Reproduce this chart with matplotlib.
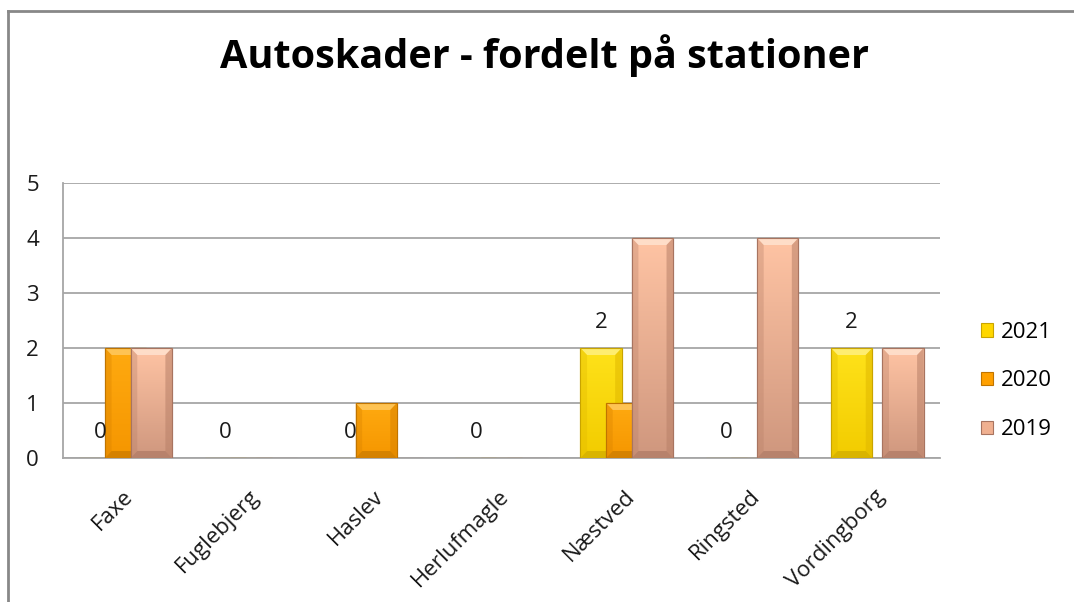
import matplotlib
matplotlib.use("Agg")
import matplotlib.pyplot as plt
import numpy as np
from matplotlib.patches import Polygon, Rectangle
from matplotlib.colors import LinearSegmentedColormap
from matplotlib.lines import Line2D
from matplotlib.transforms import ScaledTranslation

plt.rcParams['font.family'] = ['Open Sans', 'DejaVu Sans']

stations = ['Faxe', 'Fuglebjerg', 'Haslev', 'Herlufmagle', 'Næstved', 'Ringsted', 'Vordingborg']
series_names = ['2021', '2020', '2019']
v2021 = [0, 0, 0, 0, 2, 0, 2]
v2020 = [2, 0, 1, 0, 1, 0, 0]
v2019 = [2, 0, 0, 0, 4, 4, 2]
title = 'Autoskader - fordelt på stationer'

# style: (face, gradient top, gradient bottom, bevel top light, side dark, edge)
styles = [
    ('#FFD700', '#FFE21A', '#F2CC00', '#FFF080', '#E0B800', '#C9A400'),
    ('#FFA000', '#FFAA10', '#F59600', '#FFC860', '#D98200', '#C07400'),
    ('#F0B090', '#FFC4A4', '#CF977E', '#FFE2CF', '#B88068', '#A87460'),
]

fig = plt.figure(figsize=(10.74, 6.02), dpi=100)
ax = fig.add_axes([63/1074, 144/602, 877/1074, 275/602])

x = np.arange(len(stations))
width = 0.33
offsets = [-0.205, 0.0, 0.205]
values = [v2021, v2020, v2019]

px_per_unit_y = 275 / 5.0
for i, (vals, off, st) in enumerate(zip(values, offsets, styles)):
    z = 3 + i
    bars = ax.bar(x + off, vals, width, color=st[0], edgecolor=st[5],
                  linewidth=0.8, zorder=z, label=series_names[i])
    cmap = LinearSegmentedColormap.from_list('g%d' % i, [st[2], st[1]])
    for rect in bars:
        h = rect.get_height()
        if h <= 0:
            continue
        x0 = rect.get_x()
        w = rect.get_width()
        grad = np.linspace(0, 1, 100).reshape(-1, 1)
        im = ax.imshow(grad, extent=[x0, x0 + w, 0, h], origin='lower',
                       cmap=cmap, aspect='auto', zorder=z + 0.1,
                       interpolation='bilinear')
        im.set_clip_path(rect)
        dx = w * 0.16
        dy = min(7 / px_per_unit_y, h / 2)
        top = Polygon([(x0, h), (x0 + w, h), (x0 + w - dx, h - dy), (x0 + dx, h - dy)],
                      closed=True, facecolor=st[3], edgecolor='none', alpha=0.85, zorder=z + 0.2)
        left = Polygon([(x0, 0), (x0, h), (x0 + dx, h - dy), (x0 + dx, dy)],
                       closed=True, facecolor=st[4], edgecolor='none', alpha=0.35, zorder=z + 0.2)
        right = Polygon([(x0 + w, 0), (x0 + w, h), (x0 + w - dx, h - dy), (x0 + w - dx, dy)],
                        closed=True, facecolor=st[4], edgecolor='none', alpha=0.55, zorder=z + 0.2)
        bot = Polygon([(x0, 0), (x0 + w, 0), (x0 + w - dx, dy), (x0 + dx, dy)],
                      closed=True, facecolor=st[5], edgecolor='none', alpha=0.6, zorder=z + 0.2)
        for p in (top, left, right, bot):
            ax.add_patch(p)
        edge = Rectangle((x0, 0), w, h, facecolor='none', edgecolor=st[5],
                         linewidth=0.8, zorder=z + 0.3)
        ax.add_patch(edge)
    if i == 0:
        for xi, v in zip(x + off, vals):
            ax.annotate(str(v), (xi, v), xytext=(0, 26), textcoords='offset pixels',
                        ha='center', va='center', fontsize=16, color='#1a1a1a', zorder=10)

ax.set_xlim(-0.5, len(stations) - 0.5)
ax.set_ylim(0, 5)
ax.set_yticks(range(0, 6))
ax.yaxis.grid(True, color='#a6a6a6', linewidth=1.3, zorder=0)
ax.set_axisbelow(True)
for s in ('top', 'right'):
    ax.spines[s].set_visible(False)
for s in ('left', 'bottom'):
    ax.spines[s].set_color('#a6a6a6')
    ax.spines[s].set_linewidth(1.3)
ax.tick_params(axis='y', length=0, pad=22, labelsize=16, labelcolor='#1a1a1a')
ax.tick_params(axis='x', length=0, pad=20, labelsize=16, labelcolor='#1a1a1a')
ax.set_xticks(x)
ax.set_xticklabels(stations, rotation=45, ha='right', va='top')
for lab in ax.get_xticklabels():
    lab.set_transform(lab.get_transform() + ScaledTranslation(12/100, 0, fig.dpi_scale_trans))
for lab in ax.get_yticklabels():
    lab.set_horizontalalignment('center')
    lab.set_transform(lab.get_transform() + ScaledTranslation(0, 0, fig.dpi_scale_trans))

handles = [Rectangle((0, 0), 1, 1, facecolor=st[0], edgecolor=st[5], linewidth=0.8) for st in styles]
fig.legend(handles, series_names, loc='center left', bbox_to_anchor=(981/1074, 221/602),
           frameon=False, fontsize=16, handlelength=0.55, handleheight=0.55,
           handletextpad=0.35, labelspacing=1.25, borderpad=0, borderaxespad=0)

fig.text(545/1074, (602 - 68)/602, title, ha='center', va='baseline',
         fontsize=28.5, fontweight='bold', color='black')

fig.add_artist(Line2D([8/1074, 8/1074], [0, (602 - 11)/602], transform=fig.transFigure,
                      color='#888888', linewidth=2))
fig.add_artist(Line2D([8/1074, 1], [(602 - 11)/602, (602 - 11)/602], transform=fig.transFigure,
                      color='#888888', linewidth=2))

fig.savefig('out.png', dpi=100)
